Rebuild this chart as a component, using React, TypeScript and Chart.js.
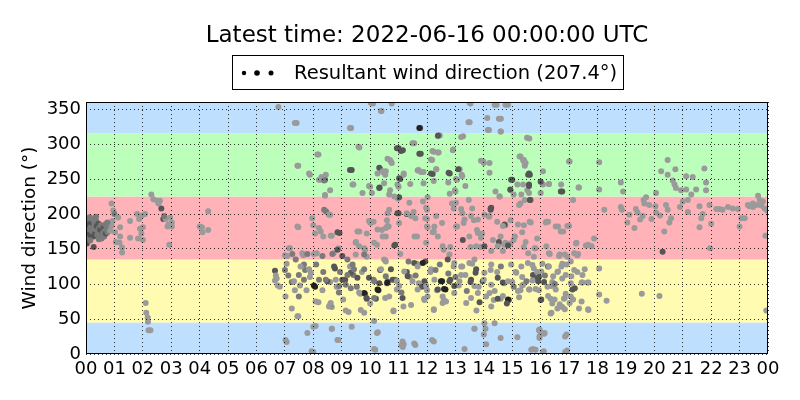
import Chart from "chart.js/auto";
import { useEffect, useRef } from "react";

// [hour of day, direction in degrees, speed class 1..4 (darker = stronger)]
type Obs = [number, number, number];

const hourLabels = [
  "00", "01", "02", "03", "04", "05", "06", "07", "08", "09", "10", "11",
  "12", "13", "14", "15", "16", "17", "18", "19", "20", "21", "22", "23", "00",
];
const dirTicks = [0, 50, 100, 150, 200, 250, 300, 350];
// compass sector edges: N, E, S, W, N
const sectorEdges = [0, 45, 135, 225, 315, 360];
const resultantDir = 207.4;
const latestTime = "2022-06-16 00:00:00 UTC";

const nightObs: Obs[] = [
  [0.02, 180, 2], [0.04, 172, 3], [0.06, 190, 2], [0.08, 165, 2], [0.1, 185, 3], [0.12, 178, 2],
  [0.14, 195, 2], [0.16, 170, 3], [0.18, 182, 2], [0.2, 188, 3], [0.22, 175, 2], [0.24, 192, 2],
  [0.26, 168, 3], [0.28, 180, 2], [0.3, 186, 2], [0.32, 172, 3], [0.34, 178, 2], [0.36, 190, 2],
  [0.38, 183, 3], [0.4, 170, 2], [0.42, 176, 2], [0.44, 186, 3], [0.46, 180, 2], [0.48, 173, 2],
  [0.5, 178, 3], [0.52, 184, 2], [0.54, 170, 2], [0.56, 176, 3], [0.58, 182, 2], [0.6, 174, 2],
  [0.62, 180, 3], [0.64, 168, 2], [0.66, 176, 2], [0.68, 185, 2], [0.7, 172, 3], [0.72, 178, 2],
  [0.74, 182, 2], [0.76, 174, 2], [0.8, 180, 2], [0.85, 176, 1], [0.9, 183, 1], [0.93, 190, 1],
  [0.03, 158, 3], [0.27, 153, 3], [0.96, 205, 1], [0.9, 215, 1], [0.1, 195, 2], [0.35, 196, 2],
  [0.55, 165, 2], [0.75, 188, 2], [0.15, 162, 2], [0.45, 164, 2],
  [1.02, 174, 1], [1.0, 200, 2], [1.13, 195, 1], [1.2, 181, 1], [1.2, 168, 1], [1.18, 159, 1],
  [1.27, 152, 1], [1.27, 145, 1], [1.05, 160, 1], [1.55, 190, 1], [1.55, 166, 1], [1.8, 200, 1],
  [1.87, 193, 1], [1.97, 198, 1], [1.9, 179, 1], [2.0, 181, 1], [1.83, 165, 1], [2.0, 163, 1],
  [1.95, 172, 1], [2.08, 200, 1],
  [2.1, 73, 1], [2.12, 59, 1], [2.17, 52, 1], [2.18, 46, 1], [2.2, 34, 1], [2.27, 34, 1],
  [2.3, 228, 1], [2.37, 221, 1], [2.5, 219, 1], [2.6, 219, 1], [2.65, 208, 3], [2.72, 193, 3],
  [2.8, 193, 1], [2.9, 185, 1], [2.87, 182, 1], [2.96, 195, 1], [3.02, 188, 1], [2.93, 156, 1],
  [3.02, 182, 1], [2.55, 215, 1], [2.75, 197, 2],
  [4.0, 182, 1], [4.08, 181, 1], [4.1, 174, 1], [4.3, 177, 1], [4.3, 204, 1],
  [6.65, 119, 3], [6.68, 112, 1], [6.65, 105, 1], [6.75, 98, 1], [6.77, 353, 1], [6.71, 108, 1],
];

const morningObs: Obs[] = [
  [7.41, 330, 1], [8.0, 3, 1], [9.33, 323, 1], [10.1, 358, 1], [10.4, 347, 1], [10.76, 358, 1],
  [8.18, 285, 1], [7.47, 269, 1], [7.88, 256, 1], [8.24, 249, 1], [8.41, 249, 3], [8.29, 253, 1],
  [8.59, 234, 1], [8.41, 227, 1], [9.62, 295, 1], [9.35, 263, 3], [9.41, 242, 1], [10.0, 239, 1],
  [10.06, 230, 1], [10.33, 238, 3], [10.35, 265, 1], [10.47, 260, 3], [10.53, 256, 1], [10.7, 277, 1],
  [10.76, 273, 1], [10.7, 234, 1], [10.98, 222, 1], [7.35, 330, 1], [8.14, 285, 1], [7.44, 269, 1],
  [7.85, 258, 1], [8.2, 249, 1], [8.38, 248, 2], [8.44, 256, 1], [9.38, 242, 1], [9.29, 263, 3],
  [8.41, 226, 1], [9.73, 230, 1], [9.59, 296, 1], [9.96, 240, 1], [10.32, 266, 3], [10.26, 258, 1],
  [10.44, 261, 1], [10.49, 244, 1], [10.32, 237, 3], [9.29, 323, 1], [10.38, 347, 1], [10.02, 359, 1],
  [7.47, 181, 1], [8.0, 184, 1], [8.06, 172, 1], [8.35, 168, 1], [8.65, 169, 1], [8.47, 203, 1],
  [8.59, 199, 1], [8.92, 173, 3], [9.62, 175, 1], [9.88, 172, 1], [10.0, 188, 1], [10.12, 189, 1],
  [10.41, 177, 1], [10.59, 191, 1], [10.65, 182, 1], [10.88, 156, 3], [10.24, 156, 1], [9.82, 149, 1],
  [9.5, 160, 1], [8.88, 151, 1], [8.71, 144, 1], [8.12, 144, 1], [7.65, 141, 1], [7.18, 151, 1],
  [7.0, 141, 1], [7.96, 194, 1], [8.2, 180, 1], [8.26, 175, 1], [8.61, 169, 1], [8.85, 174, 3],
  [8.44, 204, 2], [8.55, 199, 1], [8.38, 206, 2], [9.55, 175, 1], [9.49, 159, 1], [9.79, 151, 1],
  [9.96, 190, 1], [10.02, 187, 1], [10.26, 178, 1], [10.14, 159, 1], [10.55, 180, 1], [10.44, 168, 1],
  [7.44, 182, 1],
  [7.06, 129, 1], [7.24, 103, 2], [7.35, 91, 1], [7.53, 98, 1], [7.71, 120, 2], [7.88, 110, 1],
  [7.76, 91, 1], [8.06, 96, 4], [8.18, 74, 1], [7.24, 65, 1], [7.47, 54, 1], [8.0, 39, 1],
  [7.06, 17, 1], [8.65, 67, 1], [8.59, 70, 2], [8.35, 117, 2], [8.59, 103, 1], [8.76, 122, 3],
  [8.94, 117, 2], [8.82, 96, 1], [9.12, 106, 3], [9.29, 125, 1], [9.41, 113, 2], [9.24, 60, 1],
  [8.65, 36, 1], [8.88, 20, 1], [9.53, 96, 2], [9.65, 86, 1], [9.82, 86, 3], [9.88, 79, 3],
  [9.71, 117, 1], [9.88, 139, 1], [10.12, 106, 2], [10.29, 91, 4], [10.2, 79, 3], [10.35, 120, 3],
  [10.59, 101, 3], [10.53, 134, 1], [10.88, 106, 2], [10.82, 61, 1], [10.94, 92, 1], [10.0, 72, 1],
  [7.14, 151, 1], [7.26, 143, 2], [7.08, 140, 1], [7.38, 135, 2], [7.61, 144, 1], [7.79, 143, 2],
  [8.02, 143, 1], [8.32, 140, 2], [7.67, 128, 2], [7.85, 121, 1], [7.49, 113, 2], [7.32, 104, 1],
  [7.67, 106, 2], [7.91, 116, 1], [8.2, 106, 2], [8.49, 104, 3], [8.73, 125, 3], [8.79, 106, 1],
  [8.67, 143, 2], [8.85, 149, 3], [9.02, 140, 3], [9.2, 135, 2], [9.38, 128, 2], [9.32, 116, 3],
  [9.49, 142, 1], [9.61, 154, 1], [9.79, 142, 2], [9.55, 109, 3], [9.79, 121, 2], [9.79, 87, 4],
  [9.87, 80, 3], [9.96, 109, 3], [10.14, 104, 2], [10.26, 92, 4], [10.32, 101, 3], [10.38, 121, 1],
  [10.55, 111, 2], [10.49, 135, 1], [10.61, 104, 2], [10.53, 80, 1], [10.14, 80, 2], [9.67, 63, 1],
  [9.14, 62, 1], [8.55, 68, 1], [8.08, 75, 1], [7.44, 54, 1], [7.02, 82, 1], [7.49, 82, 2],
  [8.02, 98, 4], [8.32, 91, 1], [8.91, 97, 2], [9.14, 99, 2], [9.32, 94, 2], [9.61, 88, 1],
  [9.02, 106, 3], [8.44, 106, 2], [8.61, 73, 1], [9.2, 113, 2], [9.43, 121, 2], [7.0, 120, 2],
  [6.82, 96, 1], [7.12, 112, 2], [7.55, 125, 1], [8.1, 128, 2], [8.9, 88, 2], [9.05, 78, 1],
  [8.08, 40, 1], [7.79, 30, 1], [7.02, 20, 1], [8.65, 36, 1], [8.85, 20, 1], [7.94, 4, 1],
  [10.14, 7, 1], [10.27, 31, 1], [9.79, 59, 1], [10.14, 47, 1], [9.35, 39, 1], [10.24, 30, 1],
  [10.18, 6, 1],
];

const middayObs: Obs[] = [
  [11.76, 323, 3], [12.45, 312, 1], [13.27, 311, 1], [13.5, 331, 1], [13.53, 358, 1], [11.73, 323, 4],
  [12.38, 311, 1], [13.2, 310, 1], [13.46, 331, 1], [13.5, 359, 1], [11.0, 294, 3], [11.15, 291, 3],
  [11.06, 250, 3], [11.18, 256, 1], [11.0, 239, 1], [11.55, 301, 1], [11.78, 286, 3], [11.7, 263, 1],
  [11.88, 260, 1], [11.88, 244, 1], [12.2, 257, 3], [12.24, 289, 1], [12.41, 288, 1], [12.39, 312, 3],
  [12.18, 277, 1], [12.33, 264, 1], [12.8, 258, 3], [12.92, 292, 1], [13.15, 264, 1], [13.06, 249, 1],
  [13.24, 254, 1], [13.35, 240, 1], [13.0, 232, 1], [13.98, 275, 1], [11.49, 301, 1], [10.94, 294, 3],
  [11.08, 290, 3], [10.61, 279, 1], [10.73, 275, 1], [11.73, 286, 3], [12.19, 290, 1], [12.38, 288, 1],
  [12.91, 291, 1], [12.14, 278, 1], [11.67, 262, 1], [11.79, 260, 1], [12.14, 258, 3], [12.32, 264, 1],
  [12.24, 247, 1], [12.76, 259, 3], [13.1, 264, 3], [13.22, 256, 1], [13.02, 250, 1], [12.75, 245, 1],
  [12.98, 234, 1], [12.8, 229, 1], [11.18, 258, 1], [11.02, 251, 3], [10.96, 242, 1], [11.41, 243, 1],
  [10.55, 261, 1], [11.02, 224, 3], [10.67, 228, 1], [10.85, 225, 1], [13.9, 276, 1],
  [11.0, 201, 3], [11.29, 200, 3], [11.53, 203, 1], [11.59, 194, 1], [11.86, 218, 1], [12.0, 206, 1],
  [11.94, 194, 1], [12.0, 182, 1], [12.24, 175, 1], [12.53, 187, 1], [12.88, 215, 1], [12.94, 208, 1],
  [13.06, 182, 1], [13.24, 201, 1], [13.29, 187, 1], [13.47, 220, 1], [13.59, 208, 1], [13.65, 191, 1],
  [13.76, 177, 1], [13.94, 172, 1], [13.88, 153, 1], [13.53, 153, 1], [12.82, 153, 1], [12.59, 149, 1],
  [11.65, 168, 1], [10.67, 206, 1], [10.96, 201, 3], [10.61, 183, 1], [10.55, 168, 1], [11.02, 187, 1],
  [11.29, 201, 1], [11.44, 197, 1], [11.56, 168, 1], [11.38, 216, 1], [11.97, 209, 1], [12.0, 193, 1],
  [12.32, 197, 1], [12.26, 182, 1], [12.02, 181, 1], [12.38, 168, 1], [12.2, 174, 1], [11.97, 159, 1],
  [12.55, 154, 1], [12.79, 142, 1], [13.02, 216, 1], [13.2, 207, 1], [13.32, 192, 1], [13.02, 182, 1],
  [13.55, 197, 1], [13.79, 192, 1], [13.26, 163, 3], [13.49, 168, 1], [13.79, 173, 1], [13.9, 166, 1],
  [13.73, 154, 1], [10.85, 155, 3], [11.06, 143, 1], [10.61, 201, 1], [12.02, 224, 1],
  [11.29, 117, 3], [11.41, 110, 1], [11.65, 129, 1], [11.71, 101, 1], [11.82, 96, 3], [11.94, 132, 3],
  [11.9, 79, 1], [12.0, 91, 1], [12.12, 117, 1], [12.24, 63, 1], [12.35, 91, 1], [12.53, 104, 4],
  [12.65, 92, 4], [12.59, 77, 1], [12.82, 106, 3], [12.94, 125, 1], [13.12, 98, 1], [13.24, 125, 1],
  [13.35, 113, 1], [13.53, 103, 3], [13.59, 129, 1], [13.71, 116, 3], [13.82, 96, 1], [13.74, 62, 1],
  [10.55, 132, 1], [10.73, 121, 3], [10.61, 102, 4], [10.79, 106, 3], [10.94, 104, 1], [11.02, 97, 1],
  [10.67, 82, 1], [11.2, 118, 1], [11.32, 111, 3], [11.55, 130, 3], [11.67, 125, 1], [11.85, 130, 4],
  [11.49, 104, 1], [11.67, 92, 1], [11.91, 104, 3], [11.97, 97, 1], [12.02, 82, 1], [12.14, 121, 1],
  [12.26, 106, 1], [12.38, 92, 3], [12.55, 82, 1], [11.14, 80, 3], [10.82, 62, 1], [11.17, 68, 1],
  [11.44, 70, 1], [11.91, 77, 1], [12.24, 64, 1], [12.49, 104, 4], [12.6, 93, 4], [12.79, 104, 3],
  [12.73, 135, 3], [12.96, 130, 1], [13.2, 125, 1], [12.96, 97, 3], [13.14, 104, 1], [12.96, 87, 1],
  [12.55, 73, 1], [12.67, 75, 1], [13.2, 113, 1], [13.49, 130, 1], [13.67, 135, 1], [13.73, 121, 3],
  [13.55, 106, 3], [13.67, 97, 1], [13.96, 104, 3], [13.55, 80, 1], [13.79, 87, 1], [13.85, 74, 3],
  [13.38, 73, 1], [11.1, 88, 2], [11.6, 112, 2], [12.3, 120, 2], [12.75, 115, 2], [13.0, 110, 2],
  [13.4, 90, 2], [11.35, 132, 2], [12.45, 128, 2],
  [11.18, 14, 1], [11.15, 10, 1], [11.59, 13, 1], [12.24, 18, 1], [13.67, 36, 1], [13.32, 7, 1],
  [12.18, 20, 1], [11.55, 15, 1], [11.14, 18, 1], [11.1, 12, 1], [13.67, 36, 1],
];

const afternoonObs: Obs[] = [
  [14.18, 320, 1], [14.45, 356, 1], [14.6, 336, 1], [14.6, 318, 1], [14.85, 356, 1], [15.6, 308, 1],
  [14.14, 320, 1], [14.12, 337, 1], [14.38, 356, 1], [14.76, 356, 1], [14.53, 336, 1], [14.59, 318, 1],
  [15.52, 309, 1], [14.2, 273, 1], [15.0, 249, 3], [14.94, 234, 1], [15.18, 242, 1], [15.41, 277, 1],
  [15.47, 273, 1], [15.62, 256, 3], [15.53, 234, 1], [15.59, 230, 1], [14.56, 225, 1], [14.0, 273, 1],
  [15.26, 282, 1], [15.38, 277, 1], [15.44, 269, 1], [15.59, 258, 3], [14.96, 249, 3], [15.38, 242, 1],
  [15.59, 242, 3], [16.08, 261, 1], [16.08, 242, 1], [16.29, 243, 1], [16.72, 242, 1], [16.76, 232, 3],
  [17.02, 275, 1], [17.35, 238, 1], [17.14, 220, 1], [14.93, 235, 3], [15.05, 228, 1], [14.41, 232, 1],
  [14.55, 225, 1], [15.32, 228, 1], [15.44, 220, 1], [15.64, 220, 3], [14.2, 259, 1], [16.0, 246, 3],
  [15.29, 282, 1], [15.41, 275, 1], [15.56, 256, 3], [15.59, 240, 3], [15.62, 220, 3], [15.29, 215, 1],
  [14.24, 208, 3], [14.18, 196, 1], [14.47, 189, 1], [14.76, 184, 1], [14.94, 191, 1], [15.24, 213, 1],
  [15.41, 184, 1], [14.59, 168, 1], [14.71, 156, 1], [14.53, 160, 3], [14.94, 158, 1], [15.41, 153, 1],
  [15.88, 165, 1], [14.02, 199, 1], [14.24, 206, 3], [14.02, 154, 3], [14.26, 209, 3], [14.2, 197, 1],
  [14.73, 185, 3], [14.67, 183, 1], [15.2, 185, 1], [15.61, 189, 1], [15.35, 174, 1], [15.09, 168, 1],
  [15.05, 163, 1], [14.76, 159, 1], [14.85, 155, 3], [14.67, 147, 1], [14.49, 154, 1], [14.26, 147, 1],
  [14.32, 163, 1], [15.79, 151, 1], [16.26, 189, 1], [16.2, 154, 1], [16.32, 143, 1], [16.61, 182, 1],
  [16.67, 142, 1], [16.79, 175, 1], [17.0, 183, 1], [17.26, 159, 1], [17.67, 156, 1], [17.79, 154, 1],
  [16.2, 189, 1], [16.85, 142, 1], [17.32, 143, 1], [15.65, 188, 1], [15.47, 160, 1], [15.56, 144, 1],
  [15.82, 151, 1], [15.76, 139, 1], [16.18, 188, 1], [16.53, 182, 1], [16.71, 175, 1], [16.94, 183, 1],
  [16.29, 144, 1], [16.65, 140, 1], [16.94, 139, 1], [17.18, 144, 1], [17.29, 141, 1], [17.24, 158, 1],
  [17.59, 155, 1], [17.88, 165, 1], [16.0, 230, 1], [16.29, 243, 1], [16.71, 232, 3], [17.0, 275, 1],
  [17.33, 238, 1],
  [14.0, 106, 1], [14.35, 77, 1], [14.24, 120, 1], [14.47, 117, 1], [14.71, 101, 1], [14.88, 77, 3],
  [14.59, 79, 1], [15.0, 103, 1], [15.12, 117, 1], [15.29, 91, 1], [15.35, 110, 1], [15.76, 122, 1],
  [15.88, 108, 3], [15.94, 91, 1], [14.02, 116, 1], [14.26, 128, 1], [14.08, 82, 1], [14.26, 99, 1],
  [14.49, 109, 3], [14.67, 102, 3], [14.85, 104, 1], [14.96, 128, 1], [15.14, 116, 1], [15.32, 125, 1],
  [15.55, 130, 1], [15.73, 113, 3], [15.91, 104, 3], [16.02, 118, 1], [16.26, 125, 3], [16.44, 111, 1],
  [16.61, 118, 1], [16.73, 125, 1], [16.91, 128, 1], [17.08, 111, 1], [17.2, 94, 3], [17.44, 102, 1],
  [17.68, 102, 1], [17.55, 121, 1], [14.2, 87, 1], [14.38, 90, 1], [14.49, 79, 3], [14.85, 78, 4],
  [14.81, 72, 3], [14.67, 83, 1], [15.2, 90, 1], [15.38, 99, 1], [15.61, 92, 1], [16.02, 78, 3],
  [16.26, 83, 1], [16.38, 97, 1], [16.49, 78, 1], [16.67, 71, 1], [16.85, 80, 1], [17.02, 73, 1],
  [17.14, 78, 1], [17.44, 75, 1], [17.67, 64, 1], [16.38, 59, 1], [16.85, 64, 1], [14.26, 68, 1],
  [15.71, 127, 1], [15.88, 117, 1], [16.06, 129, 1], [16.29, 125, 1], [16.59, 117, 1], [16.88, 113, 1],
  [17.18, 120, 1], [17.29, 117, 1], [17.47, 113, 1], [15.94, 110, 3], [15.71, 105, 1], [16.12, 103, 3],
  [16.41, 103, 1], [16.76, 108, 1], [17.06, 101, 1], [17.47, 102, 1], [17.65, 102, 1], [15.35, 98, 1],
  [15.59, 92, 1], [15.82, 93, 1], [16.24, 96, 1], [16.53, 92, 1], [17.12, 92, 3], [16.88, 86, 1],
  [15.24, 81, 1], [16.0, 77, 3], [16.35, 79, 1], [16.82, 79, 1], [17.06, 82, 1], [16.41, 72, 1],
  [16.76, 67, 1], [16.59, 65, 1], [16.35, 58, 1], [17.35, 65, 1], [17.68, 63, 1], [17.06, 132, 1],
  [16.76, 129, 1], [14.6, 125, 2], [15.05, 96, 2], [15.5, 104, 2], [16.15, 112, 2], [16.5, 100, 2],
  [14.06, 36, 1], [14.59, 23, 1], [15.18, 24, 1], [16.0, 31, 1], [15.82, 6, 1], [14.0, 28, 1],
  [14.08, 14, 1], [14.02, 44, 1], [14.38, 44, 1], [15.96, 35, 1], [15.96, 25, 1], [16.14, 30, 1],
  [16.91, 28, 1], [15.73, 7, 1], [16.11, 4, 1], [16.93, 5, 1], [15.94, 34, 1], [15.96, 23, 1],
  [16.12, 29, 1], [16.86, 25, 1], [15.67, 6, 1], [16.08, 3, 1], [16.86, 3, 1],
];

const eveningObs: Obs[] = [
  [18.06, 274, 1], [18.06, 235, 1], [18.82, 245, 1], [18.24, 206, 1], [18.82, 210, 1], [18.86, 206, 1],
  [19.12, 199, 1], [19.35, 207, 1], [19.41, 202, 1], [19.59, 197, 1], [19.62, 220, 1], [19.65, 215, 1],
  [19.71, 224, 1], [19.82, 213, 1], [20.04, 211, 1], [20.06, 202, 1], [20.06, 230, 1], [20.41, 213, 1],
  [20.47, 206, 1], [20.59, 194, 1], [20.53, 188, 1], [20.35, 175, 1], [20.29, 146, 3], [20.24, 261, 1],
  [20.47, 277, 1], [20.47, 256, 1], [20.74, 264, 1], [20.65, 248, 1], [20.71, 242, 1], [20.76, 237, 1],
  [20.94, 234, 1], [21.0, 218, 1], [21.12, 254, 1], [21.12, 235, 1], [21.18, 220, 1], [21.18, 203, 1],
  [21.35, 253, 1], [21.47, 235, 1], [21.59, 211, 1], [21.65, 194, 1], [21.59, 181, 1], [21.76, 265, 1],
  [21.82, 245, 1], [21.82, 234, 1], [21.94, 213, 1], [22.0, 186, 1], [21.96, 151, 1], [22.18, 207, 1],
  [22.29, 207, 1], [22.59, 210, 1], [22.76, 208, 1], [22.94, 207, 1], [23.06, 194, 1], [23.18, 194, 1],
  [23.0, 182, 1], [23.29, 213, 1], [23.47, 215, 1], [23.65, 226, 1], [23.71, 220, 1], [23.82, 218, 1],
  [23.88, 208, 1], [23.91, 169, 1], [23.94, 62, 1], [23.59, 213, 1], [23.47, 210, 1], [18.9, 232, 1],
  [19.05, 188, 1], [19.3, 180, 1], [19.5, 192, 1], [19.9, 193, 1], [20.2, 198, 1], [20.9, 210, 1],
  [21.3, 228, 1], [21.7, 200, 1], [22.4, 206, 1], [23.35, 211, 1], [23.76, 212, 1], [23.97, 205, 1],
  [18.06, 122, 1], [18.06, 85, 1], [18.32, 76, 1], [19.56, 86, 1], [20.18, 83, 1],
];

const allObs = [...nightObs, ...morningObs, ...middayObs, ...afternoonObs, ...eveningObs];

const FONT = "'DejaVu Sans', 'Liberation Sans', sans-serif";
const shade = ["#9a9a9a", "#9a9a9a", "#7a7a7a", "#555555", "#222222"];
const bandColors = ["#bfdfff", "#fffbb0", "#ffb3b8", "#bbffbb", "#bfdfff"];

const decorPlugin = {
  id: "decor",
  beforeDatasetsDraw(chart: Chart) {
    const { ctx, chartArea } = chart;
    const y = chart.scales.y;
    ctx.save();
    for (let i = 0; i < sectorEdges.length - 1; i++) {
      const top = y.getPixelForValue(sectorEdges[i + 1]);
      const bottom = y.getPixelForValue(sectorEdges[i]);
      ctx.fillStyle = bandColors[i];
      ctx.fillRect(chartArea.left, top, chartArea.right - chartArea.left, bottom - top);
    }
    ctx.restore();
  },
  afterDraw(chart: Chart) {
    const { ctx, chartArea } = chart;
    const cx = (chartArea.left + chartArea.right) / 2;
    ctx.save();
    // frame
    ctx.strokeStyle = "#000";
    ctx.lineWidth = 1;
    ctx.strokeRect(chartArea.left + 0.5, chartArea.top + 0.5,
      chartArea.right - chartArea.left - 1, chartArea.bottom - chartArea.top - 1);
    // title
    ctx.fillStyle = "#000";
    ctx.textAlign = "center";
    ctx.textBaseline = "alphabetic";
    ctx.font = `23px ${FONT}`;
    ctx.fillText(`Latest time: ${latestTime}`, cx, 42);
    // legend
    ctx.strokeRect(232.5, 55.5, 391, 34);
    const dots: [number, number][] = [[244, 2.2], [257, 2.8], [271, 2.5]];
    dots.forEach(([x, r]) => {
      ctx.beginPath();
      ctx.arc(x, 73, r, 0, Math.PI * 2);
      ctx.fill();
    });
    ctx.textAlign = "left";
    ctx.font = `19.5px ${FONT}`;
    ctx.fillText(`Resultant wind direction (${resultantDir.toFixed(1)}°)`, 294, 79);
    // y title
    ctx.translate(30, (chartArea.top + chartArea.bottom) / 2);
    ctx.rotate(-Math.PI / 2);
    ctx.textAlign = "center";
    ctx.textBaseline = "middle";
    ctx.font = `18.5px ${FONT}`;
    ctx.fillText("Wind direction (°)", 0, 0);
    ctx.restore();
  },
};

export default function App() {
  const canvasRef = useRef<HTMLCanvasElement>(null);

  useEffect(() => {
    document.body.style.margin = "0";
    if (!canvasRef.current) return;

    const chart = new Chart(canvasRef.current, {
      type: "scatter",
      data: {
        datasets: [
          {
            label: "Resultant wind direction",
            data: allObs.map(([h, d]) => ({ x: h, y: d })),
            pointBackgroundColor: allObs.map((o) => shade[o[2]]),
            pointRadius: 3,
            pointBorderWidth: 0,
            pointHoverRadius: 3,
          },
        ],
      },
      options: {
        animation: false,
        responsive: false,
        events: [],
        layout: { padding: { top: 102, right: 32, left: 0, bottom: 0 } },
        plugins: {
          legend: { display: false },
          tooltip: { enabled: false },
        },
        scales: {
          x: {
            type: "linear",
            min: 0,
            max: 24,
            afterBuildTicks: (s: any) => {
              s.ticks = hourLabels.map((_, i) => ({ value: i }));
            },
            afterFit: (s: any) => {
              s.height = 46;
            },
            ticks: {
              autoSkip: false,
              maxRotation: 0,
              padding: 5,
              color: "#000",
              font: { family: FONT, size: 18 },
              callback: (v: any) => hourLabels[Number(v)],
            },
            grid: { color: "#000", lineWidth: 0.8, drawTicks: false, z: 1 },
            border: { display: false, dash: [1, 3] },
          },
          y: {
            min: 0,
            max: 360,
            afterBuildTicks: (s: any) => {
              s.ticks = dirTicks.map((v) => ({ value: v }));
            },
            afterFit: (s: any) => {
              s.width = 86;
            },
            ticks: {
              padding: 5,
              color: "#000",
              font: { family: FONT, size: 18 },
            },
            grid: { color: "#000", lineWidth: 0.8, drawTicks: false, z: 1 },
            border: { display: false, dash: [1, 3] },
          },
        },
      },
      plugins: [decorPlugin],
    });

    return () => {
      chart.destroy();
    };
  }, []);

  return (
    <div style={{ width: 800, height: 400, background: "#fff" }}>
      <canvas ref={canvasRef} width={800} height={400}></canvas>
    </div>
  );
}
